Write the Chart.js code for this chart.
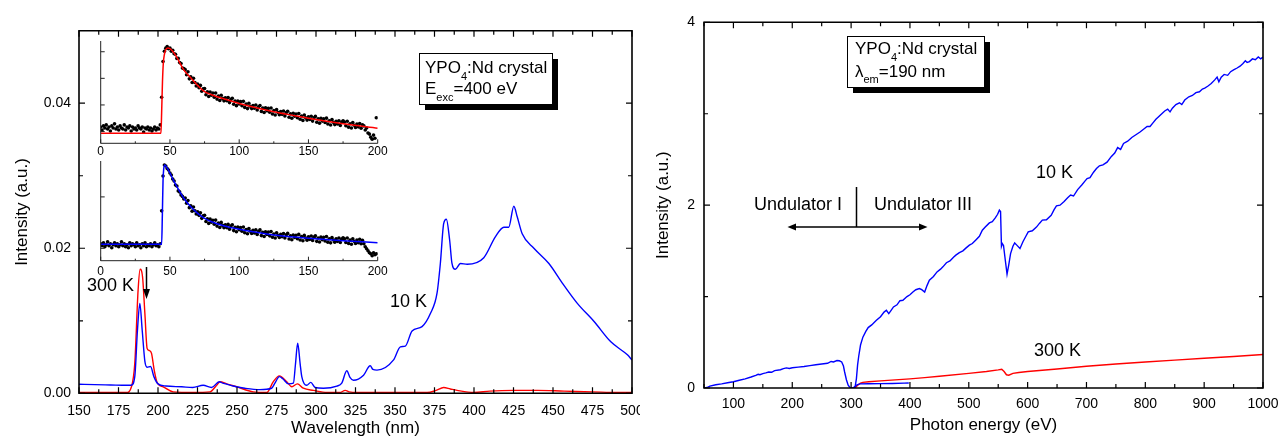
<!DOCTYPE html>
<html>
<head>
<meta charset="utf-8">
<script src="https://cdn.jsdelivr.net/npm/chart.js@4/dist/chart.umd.min.js"></script>
<style>
html,body{margin:0;padding:0;background:#fff;}
#wrap{position:relative;width:1279px;height:437px;overflow:hidden;}
canvas{position:absolute;}
</style>
</head>
<body>
<div id="wrap">
  <canvas id="spec" width="640" height="437" style="left:0px;top:0px"></canvas>
  <canvas id="decayTop" width="310" height="132" style="left:80px;top:30px"></canvas>
  <canvas id="decayBot" width="310" height="132" style="left:80px;top:150px"></canvas>
  <canvas id="exc" width="639" height="437" style="left:640px;top:0px"></canvas>
</div>
<script>
// ---- emission spectra (left panel) ----
const wl10K = [150,160,170,180,183,185.3,187,188.5,190,191.7,193.1,195.3,197.4,200,205,215,222,228.6,233.9,238.8,241,243,247.6,255,264.5,271.9,274,276.8,279,282.5,285.7,287,288.4,290,291,294.1,296.7,299.4,304.7,313.2,316.3,319.5,321.5,323.7,330.1,334.3,336,338.6,349.1,353.4,356.5,360.8,367.1,372.4,376.6,378.7,380.8,382.5,384.6,386,388.2,391.4,395.7,406.2,413.6,418.9,422,425.2,427.4,430.5,437.9,447.4,455.9,465.4,476,486.6,497.1,500];
const int10K = [0.00124,0.0012,0.00115,0.0011,0.0011,0.0023,0.0087,0.0124,0.0087,0.0044,0.0036,0.0037,0.0023,0.0013,0.001,0.0009,0.0008,0.0011,0.0008,0.0016,0.0014,0.0013,0.001,0.0007,0.0005,0.0007,0.0014,0.0023,0.002,0.0013,0.0014,0.004,0.0069,0.004,0.0023,0.0011,0.0015,0.0008,0.0007,0.001,0.0014,0.0031,0.0022,0.0018,0.0025,0.0038,0.0033,0.0032,0.0046,0.0064,0.0065,0.0086,0.0092,0.011,0.0138,0.0179,0.0234,0.024,0.0211,0.018,0.0171,0.0179,0.0178,0.0187,0.0216,0.0229,0.0229,0.0258,0.0243,0.022,0.02,0.0179,0.0152,0.0124,0.0099,0.0071,0.0053,0.0046];
const wl300K = [150,180,183.2,185.3,187.4,188.7,190.2,191.7,193.1,194.4,195.9,197.6,199.5,203.3,209.6,222.3,232.9,237.1,239.2,243.5,249.8,260.3,268.8,273,276.8,281.5,284.7,288.2,292,298.4,306.9,315,318.5,321,325.9,334.3,351.3,370.3,376,380.8,385,389.3,399.9,410,425.2,440,457,475,490.8,500];
const int300K = [0.0001,0.0001,0.0009,0.0041,0.0142,0.0171,0.0161,0.011,0.0062,0.0059,0.0055,0.0032,0.00146,0.0009,0.0002,0.0001,0.0002,0.0011,0.0016,0.0013,0.0009,0.0002,0.0001,0.0016,0.0024,0.0016,0.0009,0.0013,0.0007,0.0004,0.0001,0.0001,0.0004,0.0002,0.0001,0.0001,0.0001,0.0001,0.0004,0.0008,0.0006,0.0004,0.0001,0.0003,0.0004,0.0004,0.0003,0.0002,0.0001,0.0001];
const specXTicks = [150,175,200,225,250,275,300,325,350,375,400,425,450,475,500];
const specXMinor = [162.5,187.5,212.5,237.5,262.5,287.5,312.5,337.5,362.5,387.5,412.5,437.5,462.5,487.5];
const specYTicks = [0, 0.02, 0.04];
const specYMinor = [0.01, 0.03];

// ---- decay curves (insets), time in ns ----
const fitTopT = [0,43.5,44,44.6,45.2,46,47,48.5,50,52,55,60,65,70,75,80,90,100,110,125,140,150,175,200];
const fitTopY = [0.098,0.098,0.3,0.6,0.78,0.87,0.915,0.932,0.925,0.9,0.84,0.717,0.64,0.565,0.505,0.475,0.43,0.39,0.355,0.309,0.27,0.244,0.19,0.147];
const dotsTop = [
  0.16,0.13,0.17,0.15,0.18,0.14,0.16,0.12,0.17,0.15,0.19,0.14,0.16,0.13,0.17,0.15,0.14,0.18,0.13,0.16,
  0.15,0.17,0.12,0.16,0.14,0.15,0.13,0.17,0.15,0.14,0.16,0.11,0.15,0.14,0.16,0.13,0.15,0.12,0.14,0.16,
  0.13,0.15,0.14,0.18,
  0.45,0.8,0.9,0.93,0.945,0.925,0.93,0.9,0.91,0.875,0.87,0.83,0.83,0.79,0.78,0.735,0.73,
  0.72,0.67,0.70,0.63,0.65,0.595,0.635,0.595,0.56,0.58,
  0.543,0.566,0.509,0.532,0.535,0.474,0.503,0.457,0.501,0.47,
  0.491,0.451,0.492,0.432,0.463,0.418,0.469,0.439,0.415,0.445,
  0.416,0.447,0.398,0.429,0.44,0.381,0.412,0.368,0.414,0.385,
  0.407,0.368,0.41,0.351,0.383,0.339,0.391,0.362,0.339,0.37,
  0.342,0.374,0.326,0.358,0.37,0.312,0.344,0.301,0.347,0.319,0.341,0.303,0.345,0.287,0.319,
  0.276,0.329,0.301,0.279,0.311,0.283,0.316,0.268,0.3,0.313,0.255,0.288,0.245,0.293,0.265,
  0.287,0.25,0.292,0.235,0.267,0.224,0.277,0.249,0.227,0.259,
  0.232,0.265,0.217,0.25,0.263,0.206,0.239,0.197,0.244,0.217,0.24,0.203,0.246,0.189,0.221,0.179,0.232,0.205,0.183,0.216,
  0.189,0.221,0.174,0.207,0.22,
  0.208,0.171,0.215,0.158,0.191,0.15,0.203,0.176,0.154,0.188,0.161,0.194,0.148,0.181,
  0.17,0.13,0.15,0.1,0.09,0.06,0.04,0.08,0.05,0.25
];
const fitBotT = [0,44,44.5,45,45.5,46.2,48,50,52,55,60,65,70,75,80,90,100,110,125,140,150,175,200];
const fitBotY = [0.164,0.164,0.45,0.8,0.92,0.96,0.93,0.88,0.82,0.742,0.626,0.54,0.475,0.425,0.39,0.345,0.315,0.29,0.258,0.237,0.225,0.2,0.18];
const dotsBot = [
  0.17,0.15,0.18,0.14,0.16,0.19,0.15,0.17,0.13,0.16,0.18,0.15,0.17,0.14,0.16,0.19,0.15,0.17,0.14,0.16,
  0.13,0.18,0.15,0.17,0.16,0.14,0.18,0.15,0.16,0.13,0.17,0.15,0.18,0.14,0.16,0.15,0.17,0.14,0.16,0.18,
  0.15,0.16,0.14,0.17,
  0.5,0.85,0.96,0.95,0.925,0.91,0.88,0.86,0.82,0.8,0.76,0.75,0.7,0.69,0.66,0.645,0.62,
  0.629,0.577,0.604,0.532,0.55,0.497,0.539,0.501,0.468,0.49,
  0.455,0.48,0.425,0.45,0.455,0.393,0.421,0.374,0.417,0.385,
  0.406,0.366,0.407,0.347,0.378,0.333,0.384,0.354,0.33,0.36,
  0.332,0.364,0.316,0.348,0.36,0.302,0.334,0.291,0.338,0.31,
  0.333,0.295,0.338,0.28,0.313,0.27,0.323,0.295,0.273,0.305,
  0.278,0.311,0.264,0.296,0.309,0.252,0.285,0.243,0.291,0.264,0.287,0.249,0.292,0.235,0.268,
  0.227,0.28,0.254,0.232,0.266,0.24,0.273,0.227,0.26,0.274,0.218,0.251,0.21,0.258,0.232,
  0.256,0.22,0.264,0.207,0.241,0.2,0.254,0.228,0.206,0.24,
  0.214,0.248,0.202,0.236,0.25,0.194,0.228,0.187,0.236,0.21,0.234,0.198,0.242,0.186,0.22,0.179,0.233,0.207,0.186,0.22,
  0.194,0.228,0.182,0.216,0.23,
  0.219,0.183,0.228,0.172,0.206,0.165,0.219,0.194,0.173,0.207,0.181,0.215,0.17,0.204,
  0.17,0.14,0.12,0.1,0.08,0.07,0.05,0.08,0.06,0.07
];
const decayTicks = [0,50,100,150,200];
const decayMinor = [25,75,125,175];

// ---- excitation spectra (right panel) ----
const energyUndI = [50,55,60,70,80,90,100,110,120,130,138,142,145,150,155,160,165,170,180,185,190,195,200,210,220,230,240,250,260,266,270,276,280,284,287,289,292,295,298,302,306,310,315,330,350,370,390,398];
const intUndI = [0,0.005,0.02,0.035,0.045,0.057,0.068,0.085,0.1,0.12,0.138,0.15,0.145,0.158,0.165,0.175,0.172,0.19,0.2,0.212,0.22,0.213,0.222,0.228,0.235,0.245,0.255,0.262,0.27,0.29,0.285,0.3,0.298,0.285,0.24,0.175,0.09,0.03,0.005,0,0.01,0.035,0.045,0.046,0.048,0.05,0.053,0.055];
const energyUndIII = [
  304,307,309,311,313,316,320,325,329,335,
  343,350,356,360,364,368,372,378,383,388,
  395,400,405,410,416,420,425,429,433,440,
  446,452,456,462,468,474,478,484,490,495,
  501,506,512,518,523,528,535,540,545,549,
  552,554,555.5,557,559,562,565,568,571,575,
  578,582,587,592,597,601,608,615,620,625,
  632,640,645,649,655,662,668,673,678,685,
  692,697,701,706,712,717,722,728,735,742,
  748,753,758,763,770,777,784,791,797,803,
  808,813,818,823,828,833,838,842,846,852,
  858,862,867,874,880,886,892,897,901,906,
  912,918,922,925,929,934,940,945,950,956,
  961,966,970,973,977,982,987,992,996,1000];
const intUndIII = [
  0,0.02,0.1,0.25,0.35,0.47,0.556,0.62,0.661,0.69,
  0.741,0.78,0.83,0.85,0.814,0.85,0.887,0.91,0.955,0.96,
  1.0,1.02,1.05,1.075,1.088,1.075,1.05,1.12,1.179,1.22,
  1.27,1.3,1.325,1.37,1.39,1.43,1.453,1.48,1.5,1.53,
  1.562,1.58,1.62,1.66,1.726,1.76,1.806,1.82,1.86,1.9,
  1.945,1.93,1.55,1.58,1.56,1.4,1.245,1.35,1.47,1.55,
  1.587,1.56,1.526,1.6,1.66,1.708,1.72,1.76,1.8,1.836,
  1.84,1.89,1.95,1.992,2.0,2.04,2.08,2.11,2.1,2.17,
  2.22,2.26,2.29,2.3,2.36,2.4,2.43,2.44,2.47,2.53,
  2.57,2.63,2.61,2.675,2.7,2.74,2.77,2.8,2.83,2.86,
  2.86,2.9,2.94,2.97,3.0,3.03,3.05,3.02,3.06,3.1,
  3.12,3.1,3.15,3.185,3.2,3.23,3.24,3.27,3.28,3.3,
  3.33,3.37,3.4,3.35,3.4,3.43,3.42,3.46,3.48,3.5,
  3.52,3.55,3.58,3.56,3.57,3.6,3.59,3.62,3.6,3.62];
const energy300K = [304,308,312,316,320,330,350,400,425,450,500,530,550,556,560,564,568,575,585,600,650,700,750,800,850,900,950,1000];
const intExc300K = [0,0.01,0.035,0.052,0.062,0.068,0.078,0.1,0.114,0.128,0.16,0.18,0.198,0.205,0.18,0.145,0.14,0.16,0.17,0.18,0.208,0.238,0.262,0.285,0.305,0.325,0.345,0.367];
const excXTicks = [100,200,300,400,500,600,700,800,900,1000];
const excXMinor = [50,150,250,350,450,550,650,750,850,950];
const excYTicks = [0, 2, 4];
const excYMinor = [1, 3];

const FONT = '"Liberation Sans", Arial, sans-serif';
Chart.defaults.font.family = FONT;
Chart.defaults.color = '#000';

const zip = (xs, ys) => xs.map((x, i) => ({x, y: ys[i]}));

function makeFrame(cfg){
  return {
    id: 'frame',
    afterDatasetsDraw(chart){
      const {ctx, chartArea: a, scales: {x, y}} = chart;
      ctx.save();
      ctx.strokeStyle = cfg.color || '#000';
      ctx.lineWidth = cfg.width;
      ctx.beginPath();
      if(cfg.box) ctx.rect(a.left, a.top, a.right - a.left, a.bottom - a.top);
      else { ctx.moveTo(a.left, a.top); ctx.lineTo(a.left, a.bottom); ctx.lineTo(a.right, a.bottom); }
      ctx.stroke();
      ctx.lineWidth = cfg.tickWidth || 1;
      ctx.beginPath();
      const xt = (vals, len) => vals.forEach(v => {
        const px = x.getPixelForValue(v);
        ctx.moveTo(px, a.bottom); ctx.lineTo(px, a.bottom - len);
        if(cfg.box){ ctx.moveTo(px, a.top); ctx.lineTo(px, a.top + len); }
      });
      const yt = (vals, len) => vals.forEach(v => {
        const py = y.getPixelForValue(v);
        ctx.moveTo(a.left, py); ctx.lineTo(a.left + len, py);
        if(cfg.box){ ctx.moveTo(a.right, py); ctx.lineTo(a.right - len, py); }
      });
      xt(cfg.xMajor, cfg.major); xt(cfg.xMinor, cfg.minor);
      yt(cfg.yMajor, cfg.major); yt(cfg.yMinor, cfg.minor);
      ctx.stroke();
      ctx.restore();
    }
  };
}

function shadowBox(ctx, x, y, w, h){
  ctx.fillStyle = '#000'; ctx.fillRect(x + 6, y + 6, w, h);
  ctx.fillStyle = '#fff'; ctx.fillRect(x, y, w, h);
  ctx.strokeStyle = '#000'; ctx.lineWidth = 1; ctx.strokeRect(x + 0.5, y + 0.5, w, h);
}
// parts starting with "_" are subscripts
function subText(ctx, parts, x, y){
  ctx.textBaseline = 'middle'; ctx.textAlign = 'left'; ctx.fillStyle = '#000';
  parts.forEach(p => {
    const sub = p[0] === '_';
    const t = sub ? p.slice(1) : p;
    ctx.font = (sub ? 11 : 17) + 'px ' + FONT;
    ctx.fillText(t, x, sub ? y + 8 : y);
    x += ctx.measureText(t).width;
  });
}
function label(ctx, t, x, y){
  ctx.font = '18px ' + FONT; ctx.textBaseline = 'middle'; ctx.textAlign = 'left';
  ctx.fillStyle = '#000'; ctx.fillText(t, x, y);
}
function head(ctx, pts){
  ctx.beginPath(); ctx.moveTo(pts[0], pts[1]); ctx.lineTo(pts[2], pts[3]); ctx.lineTo(pts[4], pts[5]);
  ctx.closePath(); ctx.fill();
}

const specNotes = {
  id: 'notes',
  afterDraw(chart){
    const ctx = chart.ctx;
    ctx.save();
    shadowBox(ctx, 419, 53, 133, 51);
    subText(ctx, ['YPO', '_4', ':Nd crystal'], 425, 68.5);
    subText(ctx, ['E', '_exc', '=400 eV'], 425, 89.5);
    label(ctx, '300 K', 87, 286);
    label(ctx, '10 K', 390, 302);
    ctx.strokeStyle = '#000'; ctx.fillStyle = '#000'; ctx.lineWidth = 1.5;
    ctx.beginPath(); ctx.moveTo(146.5, 267); ctx.lineTo(146.5, 292); ctx.stroke();
    head(ctx, [146.5, 299, 143, 289, 150, 289]);
    ctx.restore();
  }
};

const excNotes = {
  id: 'notes',
  afterDraw(chart){
    const ctx = chart.ctx;
    ctx.save();
    shadowBox(ctx, 207, 36, 137, 51);
    subText(ctx, ['YPO', '_4', ':Nd crystal'], 215, 49.5);
    subText(ctx, ['\u03bb', '_em', '=190 nm'], 215, 72);
    label(ctx, '10 K', 396, 173);
    label(ctx, '300 K', 394, 351);
    label(ctx, 'Undulator I', 114, 205);
    label(ctx, 'Undulator III', 234, 205);
    ctx.strokeStyle = '#000'; ctx.fillStyle = '#000'; ctx.lineWidth = 1.5;
    ctx.beginPath();
    ctx.moveTo(216.5, 187); ctx.lineTo(216.5, 227);
    ctx.moveTo(152, 227); ctx.lineTo(283, 227);
    ctx.stroke();
    head(ctx, [147.5, 227, 156, 223.5, 156, 230.5]);
    head(ctx, [287.5, 227, 279, 223.5, 279, 230.5]);
    ctx.restore();
  }
};

function baseScale(o){
  return Object.assign({
    type: 'linear',
    grid: {display: false, drawTicks: false},
    border: {display: false}
  }, o);
}
// fixed scale sizes, no extra room for overhanging labels
const fixH = h => s => { s.height = h; s.paddingLeft = 0; s.paddingRight = 0; };
const fixW = w => s => { s.width = w; s.paddingTop = 0; s.paddingBottom = 0; };

new Chart(document.getElementById('spec'), {
  type: 'line',
  data: {
    datasets: [
      {label: '10 K', data: zip(wl10K, int10K), borderColor: '#0000ff', borderWidth: 1.4, pointRadius: 0, cubicInterpolationMode: 'monotone'},
      {label: '300 K', data: zip(wl300K, int300K), borderColor: '#ff0000', borderWidth: 1.4, pointRadius: 0, cubicInterpolationMode: 'monotone'}
    ]
  },
  options: {
    responsive: false, animation: false, events: [],
    layout: {padding: {left: 0, top: 30.7, right: 8, bottom: 0}, autoPadding: false},
    plugins: {legend: {display: false}, tooltip: {enabled: false}},
    scales: {
      x: baseScale({
        position: 'bottom', min: 150, max: 500,
        afterBuildTicks: s => { s.ticks = specXTicks.map(v => ({value: v})); },
        afterFit: fixH(43.7),
        ticks: {padding: 9, font: {size: 14}, maxRotation: 0, autoSkip: false, callback: v => String(v)},
        title: {display: true, text: 'Wavelength (nm)', font: {size: 17, lineHeight: 1}, padding: {top: 0, bottom: 0}}
      }),
      y: baseScale({
        position: 'left', min: 0, max: 0.05,
        afterBuildTicks: s => { s.ticks = specYTicks.map(v => ({value: v})); },
        afterFit: fixW(79),
        ticks: {padding: 8, font: {size: 14}, callback: v => v.toFixed(2)},
        title: {display: true, text: 'Intensity (a.u.)', font: {size: 17, lineHeight: 1}, padding: {top: 14, bottom: 0}}
      })
    }
  },
  plugins: [makeFrame({box: true, width: 1.6, tickWidth: 1.2, major: 6, minor: 4,
    xMajor: specXTicks, xMinor: specXMinor, yMajor: specYTicks, yMinor: specYMinor}), specNotes]
});

function decayChart(id, fitT, fitY, dots, color, padTop, xHeight, labelPad, yMarks){
  return new Chart(document.getElementById(id), {
    type: 'line',
    data: {
      datasets: [
        {label: 'fit', data: zip(fitT, fitY), borderColor: color, borderWidth: 1.5, pointRadius: 0, cubicInterpolationMode: 'monotone'},
        {label: 'data', data: dots.map((v, i) => ({x: i, y: v})), showLine: false, pointRadius: 1.8,
         pointBorderWidth: 0, pointBackgroundColor: '#000', borderColor: '#000'}
      ]
    },
    options: {
      responsive: false, animation: false, events: [],
      layout: {padding: {left: 20.7, top: padTop, right: 12.3, bottom: 0}, autoPadding: false},
      plugins: {legend: {display: false}, tooltip: {enabled: false}},
      scales: {
        x: baseScale({
          position: 'bottom', min: 0, max: 200,
          afterBuildTicks: s => { s.ticks = decayTicks.map(v => ({value: v})); },
          afterFit: fixH(xHeight),
          ticks: {padding: labelPad, font: {size: 12}, maxRotation: 0, autoSkip: false, callback: v => String(v)}
        }),
        y: {type: 'linear', display: false, min: 0, max: 1}
      }
    },
    plugins: [makeFrame({box: false, width: 1, color: '#222', major: 4, minor: 2,
      xMajor: decayTicks, xMinor: decayMinor, yMajor: yMarks, yMinor: []})]
  });
}
decayChart('decayTop', fitTopT, fitTopY, dotsTop, '#ff0000', 11, 18.7, 1, [0.115, 0.375, 0.635, 0.895]);
decayChart('decayBot', fitBotT, fitBotY, dotsBot, '#0000ff', 11, 21.3, 4, [0.124, 0.64]);

new Chart(document.getElementById('exc'), {
  type: 'line',
  data: {
    datasets: [
      {label: '10 K (Undulator I)', data: zip(energyUndI, intUndI), borderColor: '#0000ff', borderWidth: 1.4, pointRadius: 0},
      {label: '10 K (Undulator III)', data: zip(energyUndIII, intUndIII), borderColor: '#0000ff', borderWidth: 1.4, pointRadius: 0},
      {label: '300 K', data: zip(energy300K, intExc300K), borderColor: '#ff0000', borderWidth: 1.4, pointRadius: 0}
    ]
  },
  options: {
    responsive: false, animation: false, events: [],
    layout: {padding: {left: 0, top: 22.3, right: 16, bottom: 0}, autoPadding: false},
    plugins: {legend: {display: false}, tooltip: {enabled: false}},
    scales: {
      x: baseScale({
        position: 'bottom', min: 50, max: 1000,
        afterBuildTicks: s => { s.ticks = excXTicks.map(v => ({value: v})); },
        afterFit: fixH(49),
        ticks: {padding: 7.5, font: {size: 14}, maxRotation: 0, autoSkip: false, callback: v => String(v)},
        title: {display: true, text: 'Photon energy (eV)', font: {size: 17, lineHeight: 1}, padding: {top: 0, bottom: 3.5}}
      }),
      y: baseScale({
        position: 'left', min: 0, max: 4,
        afterBuildTicks: s => { s.ticks = excYTicks.map(v => ({value: v})); },
        afterFit: fixW(64),
        ticks: {padding: 9, font: {size: 14}, callback: v => String(v)},
        title: {display: true, text: 'Intensity (a.u.)', font: {size: 17, lineHeight: 1}, padding: {top: 14.5, bottom: 0}}
      })
    }
  },
  plugins: [makeFrame({box: true, width: 1.6, tickWidth: 1.2, major: 6, minor: 4,
    xMajor: excXTicks, xMinor: excXMinor, yMajor: excYTicks, yMinor: excYMinor}), excNotes]
});
</script>
</body>
</html>
